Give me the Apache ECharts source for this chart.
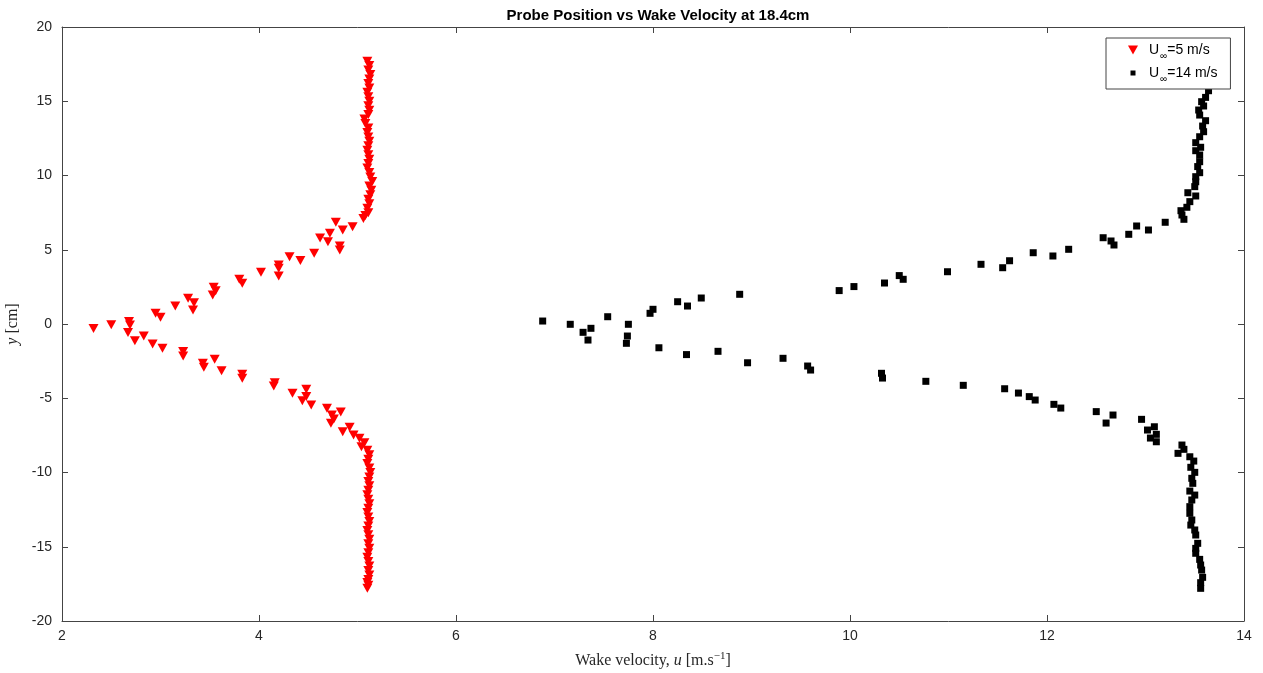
<!DOCTYPE html>
<html>
<head>
<meta charset="utf-8">
<script src="https://cdn.jsdelivr.net/npm/echarts@6/dist/echarts.min.js"></script>
<style>
html,body{margin:0;padding:0;background:#fff;}
#chart{width:1263px;height:673px;}
</style>
</head>
<body>
<div id="chart"></div>
<script>
// U_inf = 5 m/s : wake velocity (m/s) and probe position y (cm)
var u5 = [5.10,5.12,5.11,5.13,5.12,5.11,5.12,5.10,5.11,5.12,5.11,5.12,5.11,5.07,5.08,5.11,5.10,5.11,5.12,5.11,5.10,5.11,5.12,5.11,5.10,5.12,5.13,5.15,5.12,5.14,5.13,5.11,5.12,5.10,5.11,5.08,5.06,
  4.78,4.95,4.85,4.72,4.62,4.70,4.82,4.82,4.56,4.31,4.42,4.20,4.20,4.02,4.20,3.80,3.83,3.54,3.56,3.53,3.28,3.34,3.15,3.33,2.95,3.00,2.68,2.69,2.50,2.32,
  2.67,2.83,2.74,2.92,3.02,3.23,3.23,3.55,3.43,3.44,3.62,3.83,3.83,4.16,4.15,4.48,4.34,4.48,4.44,4.53,4.69,4.83,4.74,4.76,4.73,4.92,4.85,4.96,5.02,5.07,5.04,
  5.10,5.12,5.11,5.10,5.12,5.13,5.12,5.11,5.12,5.11,5.10,5.11,5.12,5.11,5.10,5.11,5.12,5.11,5.10,5.11,5.12,5.11,5.12,5.11,5.10,5.11,5.12,5.11,5.12,5.11,5.10,5.11,5.10];
var y5 = [17.7,17.4,17.1,16.8,16.5,16.2,15.9,15.6,15.3,15.0,14.7,14.4,14.1,13.8,13.5,13.2,12.9,12.6,12.3,12.0,11.7,11.4,11.1,10.8,10.5,10.2,9.9,9.6,9.3,9.0,8.7,8.4,8.1,7.8,7.5,7.3,7.1,
  6.85,6.55,6.33,6.11,5.79,5.54,5.25,4.98,4.76,4.53,4.27,3.97,3.75,3.48,3.23,3.01,2.74,2.47,2.24,1.95,1.73,1.43,1.21,0.94,0.72,0.45,0.16,-0.07,-0.05,-0.30,
  -0.58,-0.81,-1.12,-1.35,-1.64,-1.86,-2.15,-2.38,-2.65,-2.92,-3.14,-3.39,-3.66,-3.95,-4.17,-4.40,-4.67,-4.89,-5.16,-5.45,-5.68,-5.93,-6.13,-6.40,-6.69,-6.96,-7.25,-7.47,-7.70,-7.99,-8.26,
  -8.5,-8.8,-9.1,-9.4,-9.7,-10.0,-10.3,-10.6,-10.9,-11.2,-11.5,-11.8,-12.1,-12.4,-12.7,-13.0,-13.3,-13.6,-13.9,-14.2,-14.5,-14.8,-15.1,-15.4,-15.7,-16.0,-16.3,-16.6,-16.9,-17.2,-17.4,-17.6,-17.8];

// U_inf = 14 m/s
var u14 = [13.64,13.61,13.57,13.59,13.54,13.55,13.61,13.58,13.59,13.55,13.51,13.56,13.51,13.55,13.55,13.53,13.55,13.51,13.51,13.50,13.43,13.51,13.45,13.42,13.36,13.37,13.39,
  13.20,12.91,13.03,12.83,12.57,12.65,12.68,12.22,11.86,12.06,11.62,11.33,11.55,10.99,10.50,10.54,10.35,10.04,9.89,8.88,8.49,8.25,8.35,8.00,7.97,7.54,6.88,7.16,7.75,7.37,7.29,7.74,7.34,7.73,
  8.06,8.66,8.34,9.32,8.96,9.57,9.60,10.32,10.33,10.77,11.15,11.57,11.71,11.82,11.88,12.07,12.14,12.50,12.67,12.96,12.60,13.09,13.02,13.11,13.05,13.11,
  13.37,13.39,13.33,13.45,13.49,13.46,13.50,13.47,13.48,13.45,13.50,13.47,13.45,13.45,13.47,13.46,13.50,13.51,13.53,13.51,13.51,13.55,13.56,13.57,13.58,13.56,13.56];
var y14 = [15.71,15.26,14.97,14.68,14.41,14.07,13.69,13.33,12.95,12.61,12.21,11.90,11.67,11.38,10.93,10.60,10.19,9.92,9.58,9.25,8.84,8.62,8.24,7.86,7.63,7.34,7.05,
  6.85,6.60,6.33,6.04,5.81,5.59,5.32,5.03,4.80,4.58,4.26,4.02,3.79,3.52,3.26,3.01,2.76,2.52,2.25,2.00,1.75,1.50,1.21,0.99,0.72,0.49,0.20,-0.02,-0.02,-0.29,-0.56,-0.81,-1.08,-1.30,
  -1.60,-1.84,-2.06,-2.31,-2.61,-2.83,-3.10,-3.32,-3.64,-3.86,-4.13,-4.36,-4.65,-4.89,-5.12,-5.41,-5.66,-5.90,-6.13,-6.42,-6.67,-6.92,-7.14,-7.43,-7.68,-7.93,
  -8.15,-8.44,-8.71,-8.94,-9.23,-9.65,-9.99,-10.39,-10.73,-11.25,-11.52,-11.85,-12.30,-12.75,-13.20,-13.54,-13.87,-14.21,-14.77,-15.11,-15.44,-15.85,-16.23,-16.57,-17.06,-17.42,-17.80];

var xTicks = [2,4,6,8,10,12,14];
var yTicks = [-20,-15,-10,-5,0,5,10,15,20];

function zip(a,b){ return a.map(function(v,i){ return [v,b[i]]; }); }

var axisCol = '#444444';
var tickFont = {color:'#262626', fontSize:14, fontFamily:'Liberation Sans, Arial, sans-serif'};
var triDown = 'path://M0,0 L10,0 L5,9 Z';
// small square centred in a larger (invisible-padded) box so the legend icon stays small
var smallSq = 'path://M0,0 L0.01,0 L0,0.01 Z M10,9 L9.99,9 L10,8.99 Z M2.5,2 L7.5,2 L7.5,7 L2.5,7 Z';

var chart = echarts.init(document.getElementById('chart'));
chart.setOption({
  backgroundColor:'#fff',
  animation:false,
  title:{
    text:'Probe Position vs Wake Velocity at 18.4cm',
    left:653, textAlign:'center', top:3,
    textStyle:{fontSize:15, fontWeight:'bold', color:'#000', fontFamily:'Liberation Sans, Arial, sans-serif'}
  },
  grid:{left:62, right:19, top:27, bottom:52, containLabel:false, outerBoundsMode:'none'},
  legend:{
    orient:'vertical', left:1106, top:38,
    padding:[5,13,5,22], itemGap:5, itemWidth:10, itemHeight:9,
    borderColor:'#444444', borderWidth:1, backgroundColor:'#fff',
    data:[{name:'5', icon:triDown},{name:'14', icon:smallSq}],
    formatter:function(n){ return '{a|U}{s|\u221e}{a|=' + n + ' m/s}'; },
    textStyle:{
      color:'#000', padding:[0,0,0,6],
      rich:{
        a:{fontSize:14, fontFamily:'Liberation Sans, Arial, sans-serif', color:'#000'},
        s:{fontSize:10, fontFamily:'Liberation Sans, Arial, sans-serif', color:'#000', padding:[12,0,0,1]}
      }
    }
  },
  xAxis:[{
    type:'value', min:xTicks[0], max:xTicks[xTicks.length-1], interval:2,
    position:'bottom',
    name:'Wake velocity, {i|u} [m.s{sup|\u22121}]',
    nameLocation:'middle', nameGap:30,
    nameTextStyle:{
      fontSize:16, fontFamily:'Liberation Serif, Times New Roman, serif', color:'#262626',
      rich:{
        i:{fontSize:16, fontStyle:'italic', fontFamily:'Liberation Serif, serif', color:'#262626'},
        sup:{fontSize:11, fontFamily:'Liberation Serif, serif', color:'#262626', padding:[0,0,8,0]}
      }
    },
    axisLine:{show:true, onZero:false, lineStyle:{color:axisCol, width:1}},
    axisTick:{show:true, inside:true, length:6, lineStyle:{color:axisCol}},
    axisLabel:Object.assign({margin:8}, tickFont),
    splitLine:{show:false}
  },{
    type:'value', min:xTicks[0], max:xTicks[xTicks.length-1], interval:2,
    position:'top',
    axisLine:{show:true, onZero:false, lineStyle:{color:axisCol, width:1}},
    axisTick:{show:true, inside:true, length:6, lineStyle:{color:axisCol}},
    axisLabel:{show:false}, splitLine:{show:false}
  }],
  yAxis:[{
    type:'value', min:yTicks[0], max:yTicks[yTicks.length-1], interval:5,
    position:'left',
    name:'{i|y} [cm]',
    nameLocation:'middle', nameGap:38, nameRotate:90,
    nameTextStyle:{
      fontSize:16, fontFamily:'Liberation Serif, Times New Roman, serif', color:'#262626',
      rich:{ i:{fontSize:16, fontStyle:'italic', fontFamily:'Liberation Serif, serif', color:'#262626'} }
    },
    axisLine:{show:true, onZero:false, lineStyle:{color:axisCol, width:1}},
    axisTick:{show:true, inside:true, length:6, lineStyle:{color:axisCol}},
    axisLabel:Object.assign({margin:10}, tickFont),
    splitLine:{show:false}
  },{
    type:'value', min:yTicks[0], max:yTicks[yTicks.length-1], interval:5,
    position:'right',
    axisLine:{show:true, onZero:false, lineStyle:{color:axisCol, width:1}},
    axisTick:{show:true, inside:true, length:6, lineStyle:{color:axisCol}},
    axisLabel:{show:false}, splitLine:{show:false}
  }],
  series:[{
    name:'5', type:'scatter', xAxisIndex:0, yAxisIndex:0,
    data:zip(u5,y5),
    symbol:'triangle', symbolRotate:180, symbolSize:[10,9],
    itemStyle:{color:'#ff0000', opacity:1}
  },{
    name:'14', type:'scatter', xAxisIndex:0, yAxisIndex:0,
    data:zip(u14,y14),
    symbol:'rect', symbolSize:7,
    itemStyle:{color:'#000000', opacity:1}
  }]
});
</script>
</body>
</html>
